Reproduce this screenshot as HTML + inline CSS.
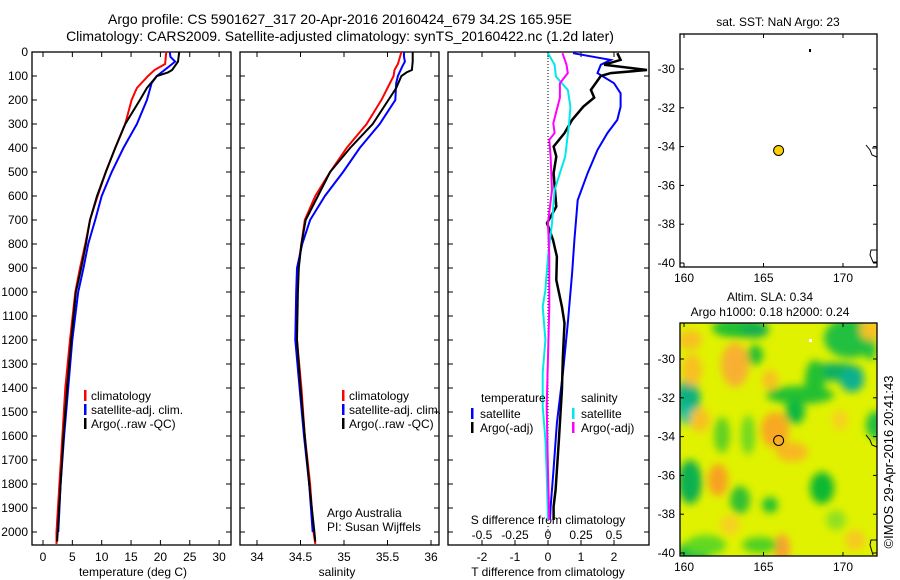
<!DOCTYPE html>
<html><head><meta charset="utf-8">
<style>
html,body{margin:0;padding:0;background:#fff;}
svg{display:block;font-family:"Liberation Sans",sans-serif;}
text{font-size:12px;fill:#000;}
</style></head>
<body>
<svg id="fig" width="900" height="580" viewBox="0 0 900 580" xmlns="http://www.w3.org/2000/svg">
<defs>
<filter id="blur" x="-20%" y="-20%" width="140%" height="140%"><feGaussianBlur stdDeviation="4"/></filter>
<clipPath id="mapclip"><rect x="680" y="323" width="197" height="233"/></clipPath>
</defs>
<text x="340" y="24" text-anchor="middle" style="font-size:14px">Argo profile: CS 5901627_317 20-Apr-2016 20160424_679 34.2S 165.95E</text>
<text x="340" y="41" text-anchor="middle" style="font-size:14px">Climatology: CARS2009. Satellite-adjusted climatology: synTS_20160422.nc (1.2d later)</text>
<g id="plots"></g>
</svg>
<script>
// ---- data ----
const tempDepth = [0,50,75,100,150,200,300,400,500,600,700,800,900,1000,1200,1400,1600,1800,2000,2050];
const tempClim  = [21,20.8,19,17.9,16,15.1,14,12.3,10.7,9.3,8.0,7.2,6.3,5.5,4.6,3.8,3.3,2.8,2.3,2.3];
const argoDepth = [0,40,75,85,100,150,200,300,400,500,600,700,800,900,1000,1200,1400,1600,1800,2000,2040];
const tempArgo  = [23.2,23,22,21.3,19.4,17.7,16.5,14,12.3,10.7,9.2,8,7.3,6.5,5.6,4.8,4.1,3.5,3.0,2.5,2.4];
const satDepth  = [0,20,40,60,100,130,200,300,400,500,600,700,800,900,1000,1200,1400,1600,1800,2000];
const tempSat   = [21.6,21.7,22.5,21.5,19.4,18.5,17.7,16,13.7,11.7,10,8.9,7.7,6.9,6,5,4.3,3.6,3.0,2.6];
const salClim   = [35.66,35.62,35.58,35.57,35.5,35.43,35.26,35.03,34.84,34.67,34.55,34.51,34.47,34.46,34.46,34.51,34.55,34.61,34.65,34.67];
const salArgo   = [35.79,35.79,35.78,35.72,35.66,35.6,35.51,35.33,35.07,34.84,34.7,34.56,34.51,34.48,34.47,34.46,34.5,34.55,34.6,34.66,34.67];
const salSat    = [35.69,35.69,35.7,35.67,35.62,35.6,35.59,35.41,35.18,34.99,34.78,34.61,34.52,34.46,34.45,34.44,34.49,34.54,34.6,34.64];
const dTSatDepth = [5,33,53,88,130,172,228,283,338,408,505,617,783,922,1130,1338,1546,1754,1896,1950];
const dTSat      = [0.76,1.9,1.6,1.5,2.0,2.2,2.2,2.1,1.8,1.5,1.2,0.9,0.8,0.73,0.6,0.45,0.27,0.16,0.08,0.06];
const dTArgoDepth = [5,33,53,75,88,100,158,190,228,283,338,394,436,505,644,713,783,853,950,1061,1130,1269,1408,1616,1824,1894,1950];
const dTArgo      = [2.1,2.2,1.7,3.0,1.9,1.6,1.3,1.4,1.07,0.73,0.5,0.17,0.25,0.17,0.25,-0.03,0.15,0.27,0.25,0.42,0.5,0.45,0.42,0.33,0.23,0.17,0.17];
const dSSatDepth = [5,53,102,158,228,297,436,575,713,853,992,1061,1200,1338,1477,1616,1754,1950];
const dSSat      = [0.0,0.05,0.06,0.15,0.17,0.16,0.13,0.05,0.03,0.0,-0.02,-0.04,-0.02,-0.04,-0.04,-0.02,-0.01,0.0];
const dSArgoDepth = [5,53,88,130,190,297,338,366,436,575,713,853,1061,1269,1477,1754,1950];
const dSArgo      = [0.11,0.14,0.15,0.09,0.09,0.04,0.05,0.01,0.02,0.03,0.0,0.01,0.01,0.0,-0.01,0.0,0.01];
const depthTicks = [0,100,200,300,400,500,600,700,800,900,1000,1100,1200,1300,1400,1500,1600,1700,1800,1900,2000];
const tempTicks = [0,5,10,15,20,25,30];
const salTicks = [34,34.5,35,35.5,36];
const salTickLabels = ["34","34.5","35","35.5","36"];
const dTTicks = [-2,-1,0,1,2];
const dSTicks = [-0.5,-0.25,0,0.25,0.5];
const latTicks = [-30,-32,-34,-36,-38,-40];
const lonTicks = [160,165,170];
const argoLon = 165.95, argoLat = -34.2;

// ---- helpers ----
const NS="http://www.w3.org/2000/svg";
const root=document.getElementById('plots');
function mk(tag,attrs,parent){const e=document.createElementNS(NS,tag);for(const k in attrs)e.setAttribute(k,attrs[k]);(parent||root).appendChild(e);return e;}
const yD = d => 52 + 0.24*d;
const xT = t => 43 + t*5.87;
const xS = s => 257 + (s-34)*87;
const xDT = t => 548 + t*33;
const xDS = s => 548 + s*132;
const xLon = l => 684 + (l-160)*15.9;
const yLat1 = la => 69 + (-30-la)*19.4;
const yLat2 = la => 359 + (-30-la)*19.4;

function line(xs,ds,fx,color,name,w){
  const pts=xs.map((v,i)=>fx(v).toFixed(1)+','+yD(ds[i]).toFixed(1)).join(' ');
  const p=mk('polyline',{points:pts,fill:'none',stroke:color,'stroke-width':w||2});
  
  
}
function frame(x0,x1,y0,y1,name){
  const r=mk('rect',{x:x0,y:y0,width:x1-x0,height:y1-y0,fill:'none',stroke:'#000','stroke-width':1.3});
  
  
}
function txt(x,y,s,name,anchor,size){
  const t=mk('text',{x:x,y:y,'text-anchor':anchor||'start'});
  if(size)t.style.fontSize=size+'px';
  t.textContent=s;
  
  
  return t;
}
function tick(x1,y1,x2,y2){const l=mk('line',{x1,y1,x2,y2,stroke:'#000','stroke-width':1});
  
  }

const panels=[[32,231],[240,439],[448,649]];
const TOP=52,BOT=545;
panels.forEach((p,i)=>{
  frame(p[0],p[1],TOP,BOT,'profile-panel-'+(i+1));
  depthTicks.forEach(d=>{tick(p[0],yD(d),p[0]+5,yD(d));tick(p[1]-5,yD(d),p[1],yD(d));});
});
depthTicks.forEach(d=>txt(28,yD(d)+4,String(d),'depth-tick-label','end'));
// panel 1
tempTicks.forEach(t=>{tick(xT(t),TOP,xT(t),TOP+5);tick(xT(t),BOT-5,xT(t),BOT);txt(xT(t),561,String(t),'temp-tick-label','middle');});
txt(133,576,'temperature (deg C)','x-axis-title-temperature','middle');
line(tempClim,tempDepth,xT,'#ff0000','temp-climatology-line');
line(tempSat,satDepth,xT,'#0000ff','temp-satellite-line');
line(tempArgo,argoDepth,xT,'#000000','temp-argo-line');
// panel 2
salTicks.forEach((s,i)=>{tick(xS(s),TOP,xS(s),TOP+5);tick(xS(s),BOT-5,xS(s),BOT);txt(xS(s),561,salTickLabels[i],'salinity-tick-label','middle');});
txt(337,576,'salinity','x-axis-title-salinity','middle');
line(salClim,tempDepth,xS,'#ff0000','sal-climatology-line');
line(salSat,satDepth,xS,'#0000ff','sal-satellite-line');
line(salArgo,argoDepth,xS,'#000000','sal-argo-line');
txt(327,517,'Argo Australia','credit-argo-australia');
txt(327,531,'PI: Susan Wijffels','credit-pi');
// legends panel 1 & 2
[[80],[338]].forEach((l,k)=>{
  const x=l[0];
  [['#ff0000','climatology'],['#0000ff','satellite-adj. clim.'],['#000000','Argo(..raw -QC)']].forEach((e,j)=>{
    const y=397+j*14;
    mk('rect',{x:x+4,y:y-7,width:2.5,height:11,fill:e[0]});
    txt(x+11,y+3,e[1],'legend-entry');
  });
});
// panel 3
mk('line',{x1:548,y1:TOP,x2:548,y2:BOT,stroke:'#000','stroke-width':1,'stroke-dasharray':'1,2'});
dTTicks.forEach(t=>{tick(xDT(t),TOP,xDT(t),TOP+5);tick(xDT(t),BOT-5,xDT(t),BOT);txt(xDT(t),561,String(t),'dT-tick-label','middle');});
dSTicks.forEach(s=>txt(xDS(s),539,String(s),'dS-tick-label','middle'));
txt(548,524,'S difference from climatology','dS-axis-title','middle');
txt(548,576,'T difference from climatology','x-axis-title-dT','middle');
line(dTSat,dTSatDepth,xDT,'#0000ff','dT-satellite-line');
line(dTArgo,dTArgoDepth,xDT,'#000000','dT-argo-line',2.5);
line(dSSat,dSSatDepth,xDS,'#00e8e8','dS-satellite-line');
line(dSArgo,dSArgoDepth,xDS,'#ff00ff','dS-argo-line');
txt(481,402,'temperature','legend-title-temperature');
txt(581,402,'salinity','legend-title-salinity');
[[471,'#0000ff','satellite',416],[471,'#000000','Argo(-adj)',430],[572,'#00e8e8','satellite',416],[572,'#ff00ff','Argo(-adj)',430]].forEach(e=>{
  mk('rect',{x:e[0],y:e[3]-8,width:2.5,height:11,fill:e[1]});
  txt(e[0]+9,e[3]+2,e[2],'legend-entry');
});
// ---- map 1 ----
txt(778,26,'sat. SST: NaN Argo: 23','map1-title','middle');
frame(680,877,34,267,'sst-map');
lonTicks.forEach(l=>{tick(xLon(l),34,xLon(l),38);tick(xLon(l),263,xLon(l),267);txt(xLon(l),282,String(l),'lon-tick-label','middle');});
latTicks.forEach(la=>{tick(680,yLat1(la),684,yLat1(la));tick(873,yLat1(la),877,yLat1(la));txt(675,yLat1(la)+4,String(la),'lat-tick-label','end');});
mk('circle',{cx:xLon(argoLon),cy:yLat1(argoLat),r:5,fill:'#ffd000',stroke:'#000','stroke-width':1});
mk('path',{d:'M866,145 L870,150 L872,155 L877,157 M877,148 L872,148',fill:'none',stroke:'#000','stroke-width':1});
mk('path',{d:'M877,250 L871,250 L870,255 L873,262 L877,262',fill:'none',stroke:'#000','stroke-width':1});
mk('rect',{x:809,y:49,width:2,height:3,fill:'#000'});
// ---- map 2 ----
txt(770,301,'Altim. SLA: 0.34','map2-title-line-1','middle');
txt(770,316,'Argo h1000: 0.18 h2000: 0.24','map2-title-line-2','middle');
const g=mk('g',{'clip-path':'url(#mapclip)'});


mk('rect',{x:680,y:323,width:197,height:233,fill:'#e0f200'},g);
const gb=mk('g',{filter:'url(#blur)'},g);
const blobs=[
 [740,328,28,10,'#20c030'],[755,330,14,8,'#18b050'],[755,355,8,10,'#20c030'],[850,338,26,20,'#20c040'],[835,372,28,9,'#10b060'],
 [852,380,12,12,'#10b090'],[800,395,34,9,'#20c030'],[795,412,10,12,'#10b840'],[815,380,10,20,'#20c030'],
 [688,400,12,22,'#10b080'],[688,415,8,10,'#10c0a0'],[692,565,18,24,'#20c040'],[690,482,12,22,'#10b050'],
 [735,365,14,22,'#f8b030'],[692,370,10,16,'#f8c020'],[775,430,14,18,'#f8a820'],[792,452,16,10,'#f8b820'],
 [718,480,10,16,'#f8a020'],[700,420,10,12,'#f8c020'],[782,548,8,14,'#f8a030'],[770,380,8,10,'#f8c020'],
 [822,488,12,16,'#10b830'],[770,505,8,8,'#20c030'],[740,500,10,14,'#30c030'],[722,435,8,18,'#60d020'],
 [748,435,7,20,'#70d820'],[760,545,18,8,'#50d020'],[706,545,20,10,'#60d820'],[876,425,10,14,'#20c040'],
 [836,520,10,10,'#90e020'],[840,420,8,10,'#f8d020'],[730,525,10,10,'#f8d020'],[855,540,10,10,'#f8c820'],
 [690,340,12,10,'#f8c020'],[870,330,10,10,'#f8c020'],[870,350,6,10,'#20c040']
];
blobs.forEach(b=>mk('ellipse',{cx:b[0],cy:b[1],rx:b[2],ry:b[3],fill:b[4]},gb));
frame(680,877,323,556,'sla-map');
lonTicks.forEach(l=>{tick(xLon(l),323,xLon(l),327);tick(xLon(l),552,xLon(l),556);txt(xLon(l),571,String(l),'lon-tick-label','middle');});
latTicks.forEach(la=>{tick(680,yLat2(la),684,yLat2(la));tick(873,yLat2(la),877,yLat2(la));txt(675,yLat2(la)+4,String(la),'lat-tick-label','end');});
mk('circle',{cx:xLon(argoLon),cy:yLat2(argoLat),r:5,fill:'none',stroke:'#000','stroke-width':1});
mk('path',{d:'M866,435 L870,440 L872,445 L877,447',fill:'none',stroke:'#000','stroke-width':1});
mk('path',{d:'M877,540 L871,540 L870,545 L873,555',fill:'none',stroke:'#000','stroke-width':1});
mk('rect',{x:809,y:339,width:3,height:3,fill:'#fff'});
const cr=txt(0,0,'©IMOS 29-Apr-2016 20:41:43','imos-credit','middle',13);
cr.setAttribute('transform','translate(893,462) rotate(-90)');
</script>
</body></html>
